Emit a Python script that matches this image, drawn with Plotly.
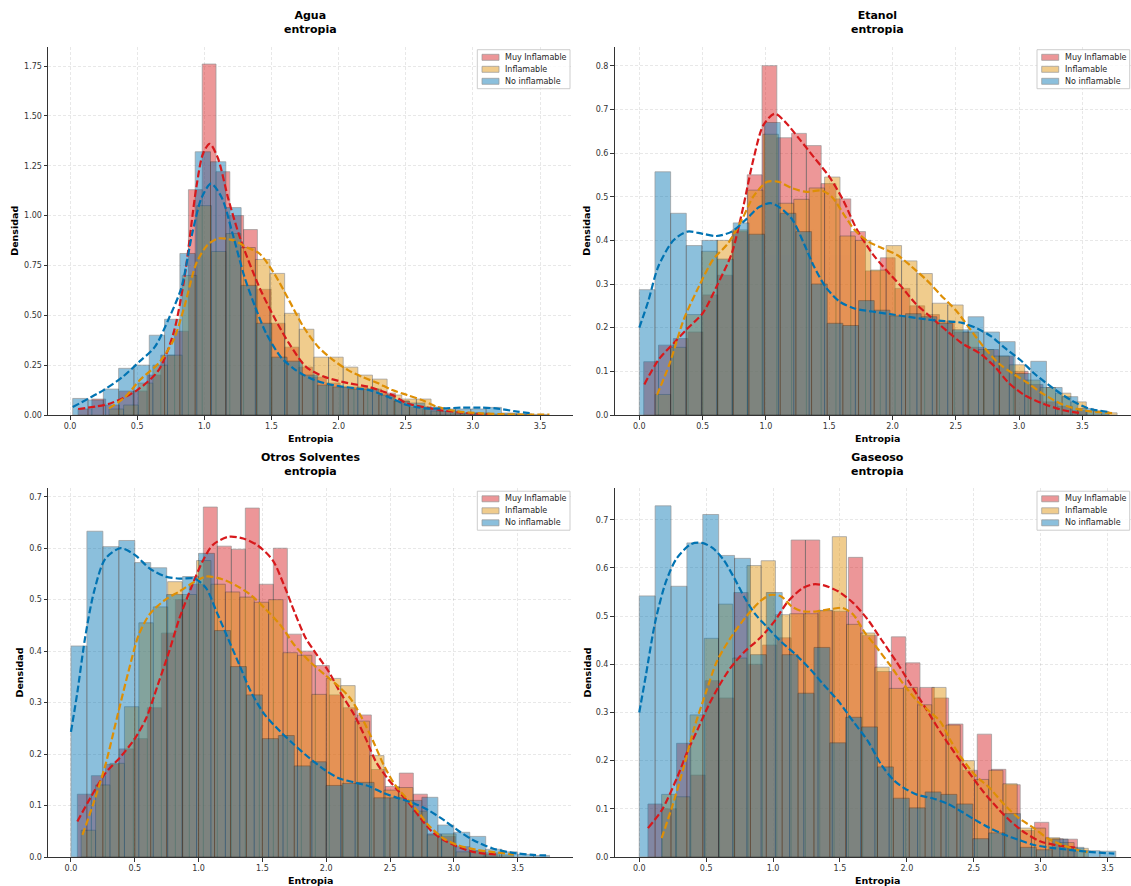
import plotly.graph_objects as go

W, H = 1131, 886

# ---------------- Agua ----------------
agua_muy_start, agua_muy_binw = 0.06, 0.1027
agua_muy = [0.03, 0.08, 0.05, 0.12, 0.12, 0.20, 0.30, 0.42, 1.13, 1.76, 1.22, 1.00, 0.93, 0.63, 0.46,
            0.34, 0.24, 0.19, 0.16, 0.14, 0.14, 0.13, 0.11, 0.07, 0.04, 0.03, 0.02, 0.01, 0.01, 0.005]
agua_inf_start, agua_inf_binw = 0.29, 0.109
agua_inf = [0.03, 0.05, 0.16, 0.25, 0.30, 0.70, 1.05, 0.82, 0.91, 0.84, 0.78, 0.71, 0.51, 0.43, 0.29,
            0.29, 0.24, 0.20, 0.18, 0.10, 0.08, 0.08, 0.02, 0.02, 0.01, 0.01, 0.005, 0.005, 0.003, 0.003]
agua_no_start, agua_no_binw = 0.02, 0.114
agua_no = [0.083, 0.075, 0.13, 0.234, 0.25, 0.40, 0.48, 0.81, 1.32, 1.27, 1.04, 0.65, 0.46, 0.29, 0.27,
           0.20, 0.15, 0.14, 0.13, 0.13, 0.10, 0.07, 0.06, 0.04, 0.03, 0.03, 0.03, 0.038, 0.01, 0.005]

agua_muy_kde_x = [0.06, 0.30, 0.50, 0.66, 0.77, 0.85, 0.94, 0.99, 1.04, 1.10, 1.18, 1.27, 1.41, 1.52, 1.63,
                  1.76, 1.90, 2.07, 2.23, 2.40, 2.51, 2.65, 2.78, 2.92, 3.06, 3.14]
agua_muy_kde_y = [0.03, 0.058, 0.125, 0.225, 0.41, 0.68, 1.14, 1.31, 1.36, 1.29, 1.08, 0.88, 0.64, 0.49, 0.36,
                  0.24, 0.19, 0.16, 0.14, 0.10, 0.058, 0.038, 0.022, 0.012, 0.004, 0.003]
agua_inf_kde_x = [0.29, 0.41, 0.52, 0.66, 0.77, 0.85, 0.94, 1.02, 1.10, 1.21, 1.32, 1.41, 1.52, 1.63, 1.74,
                  1.85, 1.96, 2.07, 2.18, 2.29, 2.40, 2.51, 2.62, 2.73, 2.87, 3.06, 3.33, 3.57]
agua_inf_kde_y = [0.033, 0.09, 0.175, 0.26, 0.375, 0.54, 0.76, 0.85, 0.885, 0.877, 0.84, 0.81, 0.71, 0.576, 0.44,
                  0.34, 0.275, 0.225, 0.19, 0.16, 0.125, 0.10, 0.075, 0.042, 0.02, 0.008, 0.003, 0.002]
agua_no_kde_x = [0.02, 0.25, 0.39, 0.52, 0.63, 0.74, 0.83, 0.91, 0.98, 1.05, 1.13, 1.21, 1.30, 1.38, 1.46,
                 1.57, 1.68, 1.82, 1.96, 2.12, 2.23, 2.37, 2.51, 2.65, 2.78, 2.92, 3.06, 3.17, 3.33, 3.44]
agua_no_kde_y = [0.04, 0.125, 0.19, 0.27, 0.34, 0.49, 0.64, 0.91, 1.09, 1.16, 1.09, 0.91, 0.69, 0.54, 0.41,
                 0.29, 0.225, 0.175, 0.15, 0.134, 0.125, 0.09, 0.05, 0.033, 0.033, 0.037, 0.037, 0.033, 0.017, 0.008]

# ---------------- Etanol ----------------
etanol_muy_start, etanol_muy_binw = 0.035, 0.1168
etanol_muy = [0.122, 0.16, 0.175, 0.19, 0.275, 0.32, 0.42, 0.55, 0.80, 0.635, 0.645, 0.617, 0.53, 0.495, 0.42,
              0.33, 0.36, 0.29, 0.25, 0.23, 0.215, 0.19, 0.155, 0.15, 0.135, 0.10, 0.07, 0.03, 0.02, 0.01]
etanol_inf_start, etanol_inf_binw = 0.126, 0.1216
etanol_inf = [0.047, 0.155, 0.23, 0.375, 0.40, 0.424, 0.515, 0.643, 0.485, 0.494, 0.52, 0.545, 0.41, 0.40, 0.332,
              0.388, 0.353, 0.324, 0.256, 0.252, 0.19, 0.15, 0.135, 0.115, 0.08, 0.063, 0.05, 0.03, 0.01, 0.005]
etanol_no_start, etanol_no_binw = 0.0, 0.1237
etanol_no = [0.287, 0.557, 0.462, 0.388, 0.40, 0.357, 0.44, 0.414, 0.67, 0.462, 0.42, 0.30, 0.21, 0.205, 0.262,
             0.24, 0.227, 0.232, 0.225, 0.21, 0.195, 0.225, 0.19, 0.168, 0.095, 0.123, 0.063, 0.042, 0.015, 0.008]

etanol_muy_kde_x = [0.04, 0.15, 0.27, 0.38, 0.50, 0.61, 0.73, 0.81, 0.90, 0.98, 1.07, 1.15, 1.27, 1.38, 1.50, 1.61,
                    1.72, 1.84, 1.95, 2.07, 2.18, 2.30, 2.44, 2.55, 2.69, 2.81, 2.92, 3.04, 3.18, 3.35, 3.49]
etanol_muy_kde_y = [0.07, 0.126, 0.164, 0.198, 0.233, 0.294, 0.37, 0.462, 0.584, 0.664, 0.69, 0.672, 0.63, 0.59, 0.546,
                    0.492, 0.424, 0.37, 0.332, 0.294, 0.256, 0.225, 0.19, 0.164, 0.141, 0.11, 0.073, 0.046, 0.027, 0.011, 0.004]
etanol_inf_kde_x = [0.14, 0.24, 0.35, 0.47, 0.58, 0.70, 0.81, 0.90, 1.01, 1.10, 1.21, 1.32, 1.44, 1.52, 1.61, 1.70,
                    1.81, 1.92, 2.04, 2.15, 2.27, 2.38, 2.50, 2.61, 2.72, 2.84, 2.95, 3.07, 3.18, 3.35, 3.52, 3.74]
etanol_inf_kde_y = [0.046, 0.118, 0.218, 0.294, 0.355, 0.393, 0.447, 0.50, 0.534, 0.534, 0.519, 0.511, 0.514, 0.50, 0.462, 0.424,
                    0.397, 0.382, 0.366, 0.34, 0.309, 0.275, 0.24, 0.198, 0.156, 0.118, 0.095, 0.073, 0.05, 0.023, 0.01, 0.004]
etanol_no_kde_x = [0.0, 0.07, 0.15, 0.27, 0.38, 0.50, 0.61, 0.73, 0.84, 0.95, 1.04, 1.12, 1.21, 1.30, 1.38, 1.47, 1.58,
                   1.70, 1.84, 1.98, 2.12, 2.27, 2.41, 2.55, 2.67, 2.78, 2.89, 3.01, 3.12, 3.27, 3.41, 3.55, 3.71]
etanol_no_kde_y = [0.20, 0.26, 0.34, 0.40, 0.42, 0.415, 0.41, 0.42, 0.447, 0.477, 0.485, 0.473, 0.447, 0.393, 0.34, 0.294, 0.26,
                   0.244, 0.237, 0.231, 0.225, 0.219, 0.215, 0.211, 0.198, 0.18, 0.153, 0.126, 0.095, 0.061, 0.034, 0.015, 0.007]

# ---------------- Otros Solventes ----------------
otros_muy_start, otros_muy_binw = 0.05, 0.1097
otros_muy = [0.122, 0.158, 0.18, 0.21, 0.23, 0.29, 0.435, 0.50, 0.53, 0.68, 0.604, 0.598, 0.678, 0.53, 0.60,
             0.433, 0.40, 0.372, 0.315, 0.29, 0.276, 0.17, 0.137, 0.163, 0.122, 0.045, 0.04, 0.02, 0.012, 0.005]
otros_inf_start, otros_inf_binw = 0.08, 0.113
otros_inf = [0.052, 0.14, 0.182, 0.292, 0.455, 0.486, 0.535, 0.51, 0.576, 0.53, 0.515, 0.505, 0.495, 0.50, 0.397,
             0.392, 0.316, 0.347, 0.333, 0.264, 0.197, 0.13, 0.135, 0.089, 0.043, 0.045, 0.01, 0.012, 0.008, 0.004]
otros_no_start, otros_no_binw = 0.0, 0.125
otros_no = [0.41, 0.633, 0.603, 0.615, 0.572, 0.562, 0.51, 0.545, 0.59, 0.44, 0.37, 0.315, 0.23, 0.236, 0.177,
            0.185, 0.139, 0.143, 0.145, 0.115, 0.115, 0.11, 0.116, 0.062, 0.048, 0.04, 0.015, 0.01, 0.005, 0.003]

otros_muy_kde_x = [0.05, 0.15, 0.27, 0.39, 0.50, 0.59, 0.68, 0.77, 0.85, 0.94, 1.03, 1.11, 1.23, 1.35, 1.46, 1.58, 1.67,
                   1.75, 1.84, 1.93, 2.02, 2.10, 2.22, 2.31, 2.39, 2.48, 2.57, 2.66, 2.74, 2.83, 2.92, 3.03, 3.15, 3.33]
otros_muy_kde_y = [0.069, 0.114, 0.163, 0.195, 0.23, 0.27, 0.334, 0.40, 0.464, 0.522, 0.574, 0.606, 0.622, 0.619, 0.606, 0.577, 0.528,
                   0.477, 0.425, 0.392, 0.36, 0.324, 0.276, 0.23, 0.185, 0.153, 0.127, 0.101, 0.075, 0.049, 0.033, 0.02, 0.01, 0.005]
otros_inf_kde_x = [0.09, 0.18, 0.27, 0.36, 0.45, 0.53, 0.62, 0.74, 0.85, 0.97, 1.06, 1.17, 1.29, 1.41, 1.52, 1.64, 1.75,
                   1.87, 1.99, 2.10, 2.19, 2.28, 2.37, 2.45, 2.54, 2.63, 2.72, 2.80, 2.92, 3.03, 3.18, 3.33, 3.47]
otros_inf_kde_y = [0.043, 0.107, 0.179, 0.27, 0.36, 0.431, 0.473, 0.50, 0.516, 0.535, 0.545, 0.541, 0.528, 0.509, 0.483, 0.451, 0.412,
                   0.38, 0.354, 0.331, 0.308, 0.27, 0.224, 0.179, 0.14, 0.114, 0.088, 0.062, 0.036, 0.023, 0.014, 0.009, 0.005]
otros_no_kde_x = [0.0, 0.05, 0.11, 0.18, 0.27, 0.39, 0.50, 0.62, 0.74, 0.85, 0.97, 1.06, 1.14, 1.23, 1.32, 1.41, 1.52, 1.64,
                  1.75, 1.87, 1.99, 2.10, 2.22, 2.34, 2.45, 2.57, 2.69, 2.80, 2.92, 3.03, 3.15, 3.30, 3.44, 3.62, 3.75]
otros_no_kde_y = [0.243, 0.32, 0.425, 0.515, 0.58, 0.60, 0.587, 0.56, 0.545, 0.541, 0.541, 0.522, 0.477, 0.425, 0.373, 0.321, 0.276, 0.244,
                  0.218, 0.192, 0.169, 0.153, 0.145, 0.137, 0.124, 0.114, 0.104, 0.091, 0.072, 0.052, 0.033, 0.017, 0.009, 0.004, 0.003]

# ---------------- Gaseoso ----------------
gas_muy_start, gas_muy_binw = 0.065, 0.107
gas_muy = [0.11, 0.10, 0.236, 0.17, 0.366, 0.33, 0.549, 0.40, 0.44, 0.455, 0.658, 0.658, 0.511, 0.51, 0.622,
           0.46, 0.385, 0.457, 0.403, 0.352, 0.33, 0.276, 0.18, 0.255, 0.182, 0.15, 0.055, 0.072, 0.038, 0.037]
gas_inf_start, gas_inf_binw = 0.167, 0.1063
gas_inf = [0.13, 0.125, 0.295, 0.454, 0.525, 0.413, 0.605, 0.615, 0.503, 0.505, 0.505, 0.512, 0.665, 0.483, 0.465,
           0.394, 0.35, 0.352, 0.316, 0.352, 0.274, 0.20, 0.161, 0.18, 0.152, 0.06, 0.06, 0.04, 0.03, 0.018]
gas_no_start, gas_no_binw = 0.0, 0.1187
gas_no = [0.542, 0.729, 0.562, 0.652, 0.711, 0.626, 0.62, 0.42, 0.549, 0.42, 0.34, 0.435, 0.237, 0.29, 0.27,
          0.187, 0.122, 0.102, 0.135, 0.13, 0.11, 0.038, 0.05, 0.09, 0.02, 0.015, 0.037, 0.02, 0.013, 0.012]

gas_muy_kde_x = [0.065, 0.17, 0.28, 0.36, 0.44, 0.52, 0.60, 0.68, 0.79, 0.90, 1.01, 1.11, 1.22, 1.30, 1.38, 1.49,
                 1.60, 1.71, 1.81, 1.92, 2.03, 2.14, 2.25, 2.35, 2.46, 2.57, 2.68, 2.78, 2.89, 3.00, 3.11, 3.27]
gas_muy_kde_y = [0.06, 0.098, 0.163, 0.219, 0.267, 0.316, 0.357, 0.392, 0.427, 0.454, 0.489, 0.53, 0.558, 0.566, 0.564, 0.551,
                 0.527, 0.492, 0.451, 0.406, 0.357, 0.309, 0.26, 0.219, 0.177, 0.136, 0.101, 0.073, 0.049, 0.032, 0.025, 0.019]
gas_inf_kde_x = [0.167, 0.25, 0.33, 0.41, 0.50, 0.58, 0.68, 0.79, 0.90, 0.98, 1.06, 1.14, 1.22, 1.33, 1.44, 1.52, 1.60, 1.68,
                 1.76, 1.87, 1.98, 2.08, 2.17, 2.25, 2.33, 2.41, 2.51, 2.62, 2.73, 2.84, 2.95, 3.05, 3.16, 3.27, 3.35]
gas_inf_kde_y = [0.039, 0.108, 0.184, 0.267, 0.343, 0.406, 0.454, 0.496, 0.53, 0.544, 0.541, 0.52, 0.51, 0.51, 0.515, 0.517, 0.503, 0.468,
                 0.44, 0.40, 0.357, 0.323, 0.302, 0.281, 0.24, 0.205, 0.17, 0.143, 0.108, 0.08, 0.06, 0.039, 0.025, 0.015, 0.01]
gas_no_kde_x = [0.0, 0.05, 0.12, 0.20, 0.28, 0.39, 0.47, 0.55, 0.63, 0.71, 0.79, 0.87, 0.95, 1.06, 1.17, 1.28, 1.38, 1.49,
                1.60, 1.71, 1.81, 1.90, 1.98, 2.08, 2.19, 2.30, 2.41, 2.51, 2.62, 2.73, 2.84, 2.95, 3.08, 3.21, 3.35, 3.55]
gas_no_kde_y = [0.30, 0.378, 0.489, 0.572, 0.62, 0.65, 0.652, 0.641, 0.617, 0.579, 0.537, 0.503, 0.479, 0.447, 0.42, 0.389, 0.357, 0.323,
                0.281, 0.24, 0.191, 0.16, 0.143, 0.129, 0.122, 0.111, 0.094, 0.077, 0.06, 0.046, 0.035, 0.025, 0.019, 0.015, 0.011, 0.007]

CATEGORIES = ["Muy Inflamable", "Inflamable", "No inflamable"]
COLORS = ["#d7191c", "#de8f05", "#0173b2"]
BAR_ALPHA = 0.45
FONT = "DejaVu Sans"
TXT = "#262626"


def fx(px):
    return px / W


def fy(py):
    return 1 - py / H


# pixel frames of the four plot areas: (left, right) and (top, bottom)
COLS = [(48, 573), (614.5, 1131)]
ROWS = [(46.5, 415), (488, 857)]
TITLE_CX = [310.5, 878]
YLAB_X = [[15, 587], [19, 587]]
LEGEND_X0 = [477.3, 1037.0]

panels = [
    dict(name="Agua", row=0, col=0, xr=[-0.164, 3.745], yr=[0, 1.848], dtick=0.25, fmt=".2f",
         series=[(agua_muy_start, agua_muy_binw, agua_muy, agua_muy_kde_x, agua_muy_kde_y),
                 (agua_inf_start, agua_inf_binw, agua_inf, agua_inf_kde_x, agua_inf_kde_y),
                 (agua_no_start, agua_no_binw, agua_no, agua_no_kde_x, agua_no_kde_y)]),
    dict(name="Etanol", row=0, col=1, xr=[-0.196, 3.884], yr=[0, 0.844], dtick=0.1, fmt=".1f",
         series=[(etanol_muy_start, etanol_muy_binw, etanol_muy, etanol_muy_kde_x, etanol_muy_kde_y),
                 (etanol_inf_start, etanol_inf_binw, etanol_inf, etanol_inf_kde_x, etanol_inf_kde_y),
                 (etanol_no_start, etanol_no_binw, etanol_no, etanol_no_kde_x, etanol_no_kde_y)]),
    dict(name="Otros Solventes", row=1, col=0, xr=[-0.18, 3.934], yr=[0, 0.717], dtick=0.1, fmt=".1f",
         series=[(otros_muy_start, otros_muy_binw, otros_muy, otros_muy_kde_x, otros_muy_kde_y),
                 (otros_inf_start, otros_inf_binw, otros_inf, otros_inf_kde_x, otros_inf_kde_y),
                 (otros_no_start, otros_no_binw, otros_no, otros_no_kde_x, otros_no_kde_y)]),
    dict(name="Gaseoso", row=1, col=1, xr=[-0.185, 3.675], yr=[0, 0.766], dtick=0.1, fmt=".1f",
         series=[(gas_muy_start, gas_muy_binw, gas_muy, gas_muy_kde_x, gas_muy_kde_y),
                 (gas_inf_start, gas_inf_binw, gas_inf, gas_inf_kde_x, gas_inf_kde_y),
                 (gas_no_start, gas_no_binw, gas_no, gas_no_kde_x, gas_no_kde_y)]),
]

fig = go.Figure()
layout = dict(
    width=W, height=H, margin=dict(l=0, r=0, t=0, b=0, autoexpand=False),
    paper_bgcolor="white", plot_bgcolor="white", barmode="overlay", showlegend=False,
    font=dict(family=FONT, color=TXT),
)
annotations = []
shapes = []

axis_common = dict(
    showline=True, linecolor="#333333", linewidth=1, mirror=False,
    ticks="outside", ticklen=3.5, tickwidth=1, tickcolor="#333333",
    tickfont=dict(family=FONT, size=8, color="#333333"),
    showgrid=True, gridcolor="rgba(0,0,0,0.09)", griddash="3px,2px", gridwidth=0.8,
    zeroline=False, fixedrange=True,
)

for i, p in enumerate(panels, start=1):
    sfx = "" if i == 1 else str(i)
    xl, xr_px = COLS[p["col"]]
    yt, yb = ROWS[p["row"]]
    layout["xaxis" + sfx] = dict(axis_common, domain=[fx(xl), fx(xr_px)], range=p["xr"],
                                 tick0=0, dtick=0.5, tickformat=".1f", anchor="y" + sfx)
    layout["yaxis" + sfx] = dict(axis_common, domain=[fy(yb), fy(yt)], range=p["yr"],
                                 tick0=0, dtick=p["dtick"], tickformat=p["fmt"], anchor="x" + sfx)

    # histograms (drawn in legend order so the overlaps blend the same way)
    for (start, binw, dens, kx, ky), cat, col in zip(p["series"], CATEGORIES, COLORS):
        centers = [start + binw * (k + 0.5) for k in range(len(dens))]
        fig.add_trace(go.Bar(
            x=centers, y=dens, width=binw, name=cat,
            marker=dict(color=col, opacity=BAR_ALPHA, line=dict(color="#1a1a1a", width=0.7)),
            xaxis="x" + sfx, yaxis="y" + sfx, hoverinfo="skip",
        ))
    # density curves
    for (start, binw, dens, kx, ky), cat, col in zip(p["series"], CATEGORIES, COLORS):
        fig.add_trace(go.Scatter(
            x=kx, y=ky, mode="lines", name=cat + " KDE",
            line=dict(color=col, width=2.2, dash="7px,3px", shape="spline", smoothing=0.8),
            xaxis="x" + sfx, yaxis="y" + sfx, hoverinfo="skip",
        ))

    # two-line bold title
    annotations.append(dict(
        text=f"<b>{p['name']}</b><br><b>entropia</b>", x=fx(TITLE_CX[p["col"]]), y=fy(yt - 23.5),
        xref="paper", yref="paper", xanchor="center", yanchor="middle", showarrow=False,
        font=dict(family=FONT, size=11, color="black"), align="center"))
    # axis labels
    annotations.append(dict(
        text="<b>Entropia</b>", x=fx(TITLE_CX[p["col"]]), y=fy(yb + 23), xref="paper", yref="paper",
        xanchor="center", yanchor="middle", showarrow=False, font=dict(family=FONT, size=9.5, color="black")))
    annotations.append(dict(
        text="<b>Densidad</b>", x=fx(YLAB_X[p["row"]][p["col"]]), y=fy((yt + yb) / 2), xref="paper", yref="paper",
        xanchor="center", yanchor="middle", textangle=-90, showarrow=False,
        font=dict(family=FONT, size=9.5, color="black")))

    # legend box in the upper right corner of each panel
    bx0 = LEGEND_X0[p["col"]]
    by0 = yt + 3.2
    shapes.append(dict(type="rect", xref="paper", yref="paper",
                       x0=fx(bx0), x1=fx(bx0 + 92.7), y0=fy(by0), y1=fy(by0 + 39),
                       fillcolor="rgba(255,255,255,0.8)", line=dict(color="rgba(200,200,200,0.9)", width=1),
                       layer="above"))
    for r, (cat, col) in enumerate(zip(CATEGORIES, COLORS)):
        cy = by0 + 7.6 + 12 * r
        shapes.append(dict(type="rect", xref="paper", yref="paper",
                           x0=fx(bx0 + 4.7), x1=fx(bx0 + 21.7), y0=fy(cy - 3), y1=fy(cy + 3),
                           fillcolor=col, opacity=BAR_ALPHA, line=dict(color="#1a1a1a", width=0.7),
                           layer="above"))
        annotations.append(dict(
            text=cat, x=fx(bx0 + 25.8), y=fy(cy), xref="paper", yref="paper",
            xanchor="left", yanchor="middle", showarrow=False,
            font=dict(family=FONT, size=8, color=TXT)))

layout["annotations"] = annotations
layout["shapes"] = shapes
fig.update_layout(**layout)

fig.write_html("out.html")
